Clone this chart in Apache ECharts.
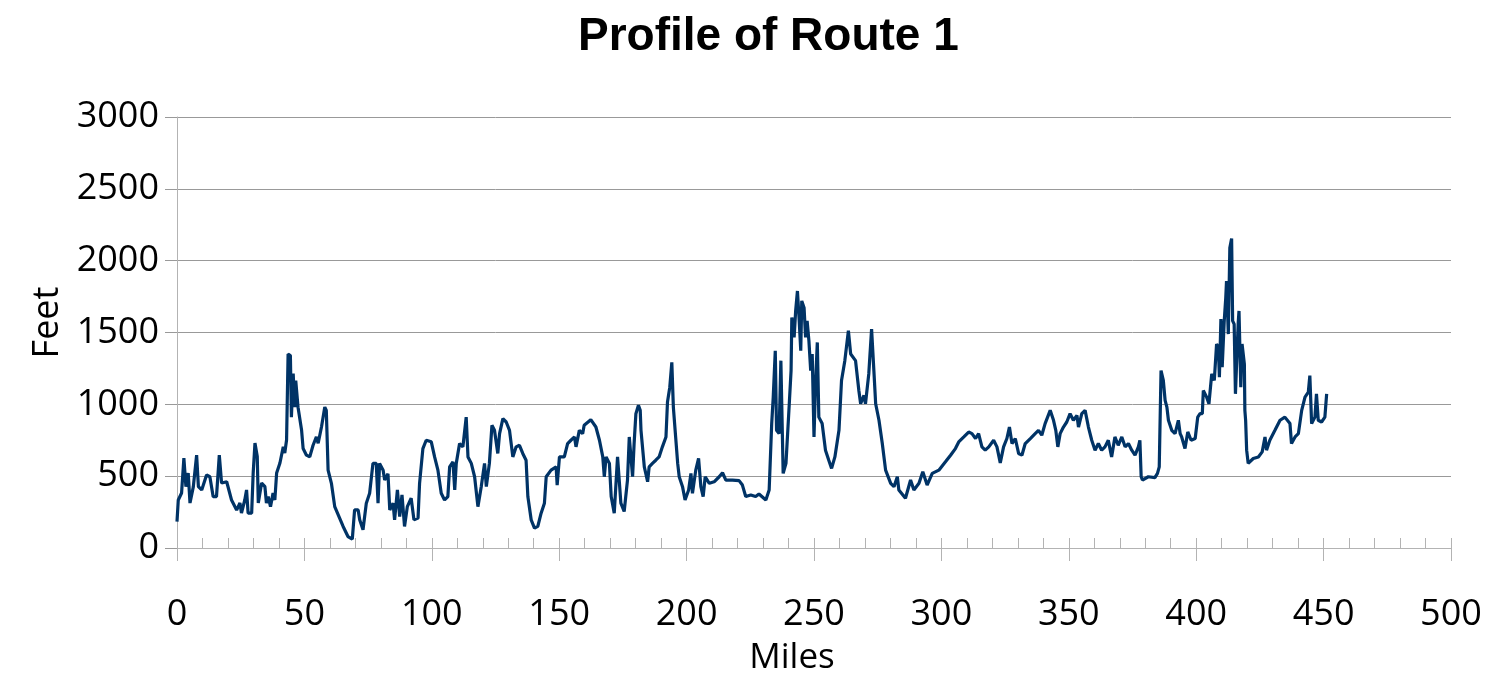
<!DOCTYPE html>
<html>
<head>
<meta charset="utf-8">
<script src="https://cdn.jsdelivr.net/npm/echarts@6/dist/echarts.min.js"></script>
<style>
  html, body { margin: 0; padding: 0; background: #fff; }
  #chart { width: 1488px; height: 686px; }
</style>
</head>
<body>
<div id="chart"></div>
<script>
// miles along the route and elevation (feet)
var miles = [
  0, 0.5, 1.8, 2.7, 3.5, 4.4, 5.1, 6.4, 7.7, 8.4, 9.7, 11.6, 12.9, 14.2, 15.5, 16.6, 17.5, 19.5,
  21.4, 23.4, 24.7, 25.3, 26.6, 27.3, 27.9, 29.3, 29.9, 30.6, 31.5, 31.9, 33.2, 34.5, 35.1, 35.8,
  36.7, 37.7, 38.4, 39.1, 40.4, 41.7, 42.3, 43.0, 43.6, 44.5, 44.9, 45.6, 46.2, 46.6, 47.5, 48.9,
  49.5, 50.8, 52.1, 53.4, 54.7, 55.4, 56.7, 58.0, 58.6, 59.3, 60.6, 61.9, 65.2, 67.1, 68.8, 69.7,
  71.1, 71.7, 73.0, 74.3, 75.6, 76.9, 78.2, 78.9, 79.5, 80.9, 81.5, 82.8, 83.5, 84.8, 85.4, 86.5,
  87.4, 88.3, 89.3, 90.4, 91.9, 93.0, 94.6, 95.2, 96.5, 97.8, 99.8, 101.1, 102.4, 103.7, 105.0,
  106.3, 107.0, 108.3, 109.0, 109.6, 110.9, 112.2, 113.5, 114.2, 115.5, 116.8, 118.1, 119.4, 120.7,
  121.4, 122.6, 123.6, 124.6, 125.9, 126.6, 127.9, 129.2, 130.5, 131.8, 133.1, 134.4, 135.7, 137.0,
  137.7, 139.0, 140.3, 141.6, 142.9, 144.2, 144.9, 146.8, 148.8, 149.2, 150.1, 152.0, 153.3, 154.6,
  156.0, 156.6, 157.9, 159.2, 159.8, 162.4, 164.4, 165.8, 167.1, 167.7, 168.4, 169.7, 170.4, 171.6,
  172.9, 173.6, 174.2, 175.5, 176.8, 177.5, 178.1, 178.8, 179.4, 180.1, 181.1, 181.8, 182.1, 183.4,
  184.7, 185.3, 186.6, 187.9, 189.2, 190.5, 191.9, 192.5, 193.4, 194.2, 194.8, 195.5, 196.5, 197.1,
  198.4, 199.4, 200.8, 201.7, 202.3, 203.6, 204.7, 205.6, 206.5, 207.3, 208.9, 210.8, 212.8, 214.1,
  215.4, 218.0, 220.6, 221.9, 223.2, 225.2, 227.1, 228.4, 231.1, 232.4, 233.4, 234.0, 234.8, 235.3,
  236.3, 237.0, 237.9, 239.0, 240.3, 241.0, 241.3, 242.2, 242.8, 243.5, 244.2, 244.8, 245.2, 246.1,
  246.7, 247.3, 248.0, 248.7, 249.3, 250.0, 250.6, 251.3, 251.9, 253.2, 254.5, 255.8, 256.9, 258.2,
  259.8, 260.8, 262.1, 263.5, 264.4, 266.3, 267.6, 268.3, 269.6, 270.2, 271.5, 272.6, 273.5, 274.2,
  275.5, 276.8, 278.1, 280.1, 281.4, 282.7, 283.3, 285.9, 287.9, 289.2, 291.2, 292.7, 294.4, 296.4,
  299.0, 301.6, 303.6, 305.5, 306.8, 308.8, 310.7, 312.0, 313.4, 314.6, 315.9, 317.2, 318.6, 320.5,
  321.8, 323.1, 324.4, 325.7, 326.7, 327.7, 329.0, 330.3, 331.6, 332.9, 334.9, 336.8, 338.1, 339.4,
  340.7, 342.7, 344.0, 344.9, 345.7, 346.6, 347.9, 349.2, 350.5, 351.8, 353.2, 353.8, 355.1, 356.4,
  357.7, 359.0, 360.3, 361.6, 362.9, 364.2, 365.5, 366.8, 368.1, 369.4, 370.8, 372.1, 373.4, 374.7,
  376.0, 377.3, 377.9, 378.4, 378.9, 381.2, 383.8, 384.8, 385.5, 386.2, 387.1, 387.8, 388.5, 389.1,
  390.4, 391.7, 393.0, 393.7, 394.3, 395.6, 396.7, 398.0, 399.6, 400.6, 401.5, 402.4, 402.8, 404.1,
  405.0, 406.1, 407.1, 408.0, 408.7, 409.1, 409.7, 410.2, 411.0, 411.6, 411.9, 412.6, 413.2, 413.9,
  414.3, 414.9, 415.4, 416.1, 416.5, 416.8, 417.5, 418.0, 418.9, 419.1, 419.4, 419.8, 420.4, 422.4,
  424.4, 425.9, 427.0, 427.6, 428.9, 430.9, 432.9, 434.8, 436.8, 437.4, 438.8, 440.1, 441.4, 442.7,
  444.0, 444.6, 445.3, 446.6, 447.2, 447.9, 449.2, 450.5, 451.2
];
var feet = [
  183, 334, 383, 626, 427, 522, 313, 425, 647, 427, 404, 508, 496, 357, 357, 647, 452, 461,
  334, 264, 313, 243, 334, 404, 243, 243, 522, 731, 636, 313, 452, 427, 313, 357,
  288, 383, 334, 522, 592, 705, 661, 752, 1350, 1340, 911, 1214, 980, 1165, 980, 819,
  692, 646, 634, 715, 773, 729, 842, 981, 957, 542, 450, 288, 150, 80, 62, 265,
  265, 196, 127, 312, 381, 589, 589, 312, 589, 542, 473, 517, 265, 312, 196, 404,
  219, 369, 150, 288, 346, 196, 208, 450, 692, 750, 739, 634, 542, 381, 334,
  358, 565, 600, 404, 589, 727, 704, 911, 634, 589, 496, 288, 427, 589,
  427, 589, 854, 819, 658, 796, 900, 877, 819, 634, 704, 715, 658, 611,
  358, 196, 138, 150, 242, 312, 496, 542, 565, 438, 634, 634, 727, 750,
  773, 704, 819, 796, 854, 893, 842, 750, 634, 496, 634, 589, 358, 242,
  634, 634, 312, 254, 473, 773, 773, 496, 727, 935, 993, 958, 819, 565,
  461, 565, 589, 611, 634, 704, 773, 1016, 1119, 1292, 981, 819, 589, 496,
  427, 334, 404, 519, 381, 542, 623, 427, 358, 496, 450, 461, 496, 524,
  473, 473, 469, 438, 358, 369, 358, 376, 334, 404, 866, 1050, 1373, 819,
  796, 1304, 519, 589, 1004, 1235, 1604, 1466, 1650, 1789, 1581, 1373, 1720, 1673,
  1466, 1581, 1443, 1235, 1350, 773, 1143, 1431, 911, 866, 681, 611, 554, 634,
  819, 1166, 1304, 1512, 1350, 1304, 1096, 1004, 1062, 1004, 1212, 1523, 1235, 1004,
  889, 727, 542, 450, 427, 496, 404, 346, 473, 404, 450, 531, 438, 519,
  542, 600, 646, 692, 738, 773, 807, 796, 762, 796, 704, 681, 704, 750,
  704, 593, 704, 762, 842, 727, 762, 658, 646, 727, 762, 796, 819, 785,
  866, 958, 889, 819, 704, 796, 842, 877, 935, 889, 923, 842, 935, 958,
  842, 750, 681, 727, 681, 704, 750, 634, 773, 715, 773, 704, 727, 681,
  646, 704, 750, 496, 473, 496, 490, 519, 565, 1235, 1166, 1027, 981, 889,
  819, 796, 889, 796, 773, 692, 808, 750, 762, 911, 935, 935, 1096, 1050,
  1004, 1212, 1166, 1420, 1396, 1189, 1593, 1258, 1581, 1742, 1858, 1489, 2089, 2154,
  1581, 1558, 1073, 1396, 1570, 1650, 1119, 1420, 1281, 958, 889, 681, 589, 623,
  634, 669, 773, 681, 750, 819, 889, 911, 866, 727, 773, 796, 958, 1050,
  1085, 1200, 866, 911, 1073, 889, 877, 911, 1073
];

var routeData = miles.map(function (m, i) { return [m, feet[i]]; });

var chart = echarts.init(document.getElementById('chart'), null, { renderer: 'canvas' });

var tickFont = { fontFamily: 'Open Sans', fontSize: 36, color: '#000' };
function plain(v) { return String(v); }

var option = {
  animation: false,
  backgroundColor: '#fff',
  title: {
    text: 'Profile of Route 1',
    left: 578,
    top: 14,
    padding: 0,
    textStyle: { fontFamily: 'Liberation Sans', fontWeight: 'bold', fontSize: 46, color: '#000' }
  },
  grid: { left: 177, right: 37, top: 117, bottom: 138, containLabel: false },
  xAxis: [{
    type: 'value',
    min: 0, max: 500, interval: 50,
    name: 'Miles',
    nameLocation: 'middle',
    nameGap: 93,
    nameTextStyle: { fontFamily: 'Open Sans', fontSize: 35, color: '#000', padding: [0, 44, 0, 0] },
    axisLine: { show: true, lineStyle: { color: '#b3b3b3', width: 1 } },
    axisTick: { show: true, length: 13, lineStyle: { color: '#b3b3b3' } },
    axisLabel: Object.assign({ margin: 49, formatter: plain }, tickFont),
    splitLine: { show: false }
  }, {
    // upward ticks every 10 miles
    type: 'value',
    gridIndex: 0,
    position: 'bottom',
    min: 0, max: 500, interval: 10,
    axisLine: { show: false },
    axisTick: { show: true, inside: true, length: 10, lineStyle: { color: '#b3b3b3' } },
    axisLabel: { show: false },
    splitLine: { show: false }
  }],
  yAxis: {
    type: 'value',
    min: 0, max: 3000, interval: 500,
    name: 'Feet',
    nameLocation: 'middle',
    nameGap: 95,
    nameTextStyle: { fontFamily: 'Open Sans', fontSize: 36, color: '#000', padding: [0, 0, 0, 20] },
    axisLine: { show: true, lineStyle: { color: '#b3b3b3', width: 1 } },
    axisTick: { show: true, length: 12, lineStyle: { color: '#999' } },
    axisLabel: Object.assign({ margin: 18, formatter: plain }, tickFont),
    splitLine: { show: true, lineStyle: { color: '#999', width: 1 } }
  },
  series: [{
    name: 'Route 1',
    type: 'line',
    xAxisIndex: 0,
    data: routeData,
    showSymbol: false,
    symbol: 'none',
    lineStyle: { color: '#003366', width: 3.2 },
    itemStyle: { color: '#003366' }
  }]
};

chart.setOption(option);
</script>
</body>
</html>
